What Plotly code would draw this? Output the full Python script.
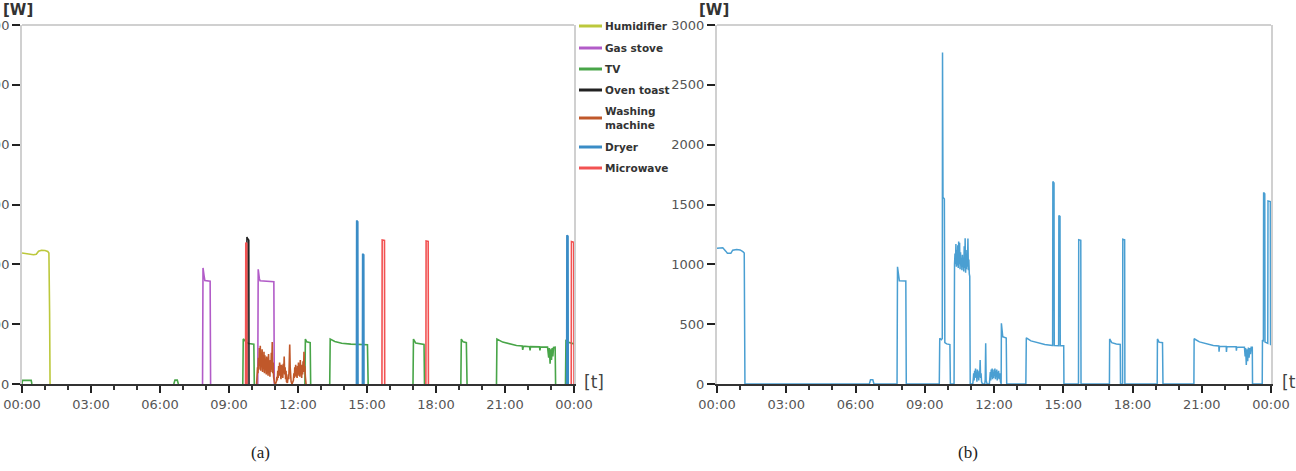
import plotly.graph_objects as go

W, H = 1296, 471

# ---------------- data (hours of day, watts); None separates events ----------------
tick_hours = [0, 3, 6, 9, 12, 15, 18, 21, 24]
tick_labels = ["00:00", "03:00", "06:00", "09:00", "12:00", "15:00", "18:00", "21:00", "00:00"]
y_ticks = [0, 500, 1000, 1500, 2000, 2500, 3000]

appliance_names = ["Humidifier", "Gas stove", "TV", "Oven toast", "Washing machine", "Dryer", "Microwave"]
appliance_colors = ["#bcc83c", "#b25cc8", "#48a548", "#222222", "#c0582a", "#3a8cc6", "#f25252"]

hum_t = [0.0, 0.2, 0.35, 0.5, 0.62, 0.72, 0.85, 1.0, 1.12, 1.17, 1.2, 1.22]
hum_w = [1095, 1090, 1082, 1080, 1085, 1110, 1118, 1116, 1108, 1095, 600, 0]

gas_t = [7.85, 7.87, 7.92, 7.95, 8.18, 8.2, None, 10.25, 10.27, 10.32, 10.35, 10.95, 10.97]
gas_w = [0, 970, 900, 865, 860, 0, None, 0, 958, 880, 862, 855, 0]

tv_t = [0.0, 0.02, 0.4, 0.43, None, 6.6, 6.65, 6.75, 6.8, None,
        9.6, 9.62, 9.75, 9.85, 10.08, 10.1, None,
        12.3, 12.32, 12.38, 12.53, 12.55, None,
        13.38, 13.4, 13.6, 13.9, 14.3, 14.7, 15.02, 15.05, None,
        17.0, 17.02, 17.12, 17.3, 17.48, 17.5, None,
        19.08, 19.1, 19.18, 19.32, 19.35, None,
        20.63, 20.65, 20.9, 21.2, 21.5, 21.75, 21.77, 21.8, 22.07, 22.09, 22.11,
        22.5, 22.52, 22.54, 22.85, 22.9, 22.93, 22.96, 22.99, 23.02, 23.05, 23.08, 23.11, 23.18, 23.2, None,
        23.63, 23.65, 23.72, 23.85, 24.0]
tv_w = [0, 30, 30, 0, None, 0, 32, 32, 0, None,
        0, 377, 350, 338, 333, 0, None,
        0, 375, 352, 345, 0, None,
        0, 375, 355, 340, 333, 330, 328, 0, None,
        0, 375, 342, 335, 330, 0, None,
        0, 375, 352, 345, 0, None,
        0, 375, 350, 335, 322, 318, 285, 316, 312, 280, 312,
        310, 280, 310, 308, 220, 300, 170, 290, 200, 300, 230, 305, 308, 0, None,
        0, 370, 350, 340, 335]

oven_t = [9.77, 9.78, 9.8, 9.84, 9.86, 9.87]
oven_w = [0, 1228, 1215, 1210, 1200, 0]

wm_t = [10.20, 10.22, 10.24, 10.26, 10.28, 10.30, 10.32, 10.34, 10.36, 10.38, 10.40, 10.42, 10.44, 10.46,
        10.48, 10.50, 10.52, 10.54, 10.56, 10.58, 10.60, 10.62, 10.64, 10.66, 10.68, 10.70, 10.72, 10.74,
        10.76, 10.78, 10.80, 10.82, 10.84, 10.86, 10.88, 10.90, 10.92, 10.94, 10.96, 10.98, 11.02, 11.06,
        11.08, 11.10, 11.12, 11.14, 11.16, 11.18, 11.20, 11.22, 11.24, 11.26, 11.28, 11.30, 11.32, 11.34,
        11.36, 11.38, 11.40, 11.42, 11.44, 11.46, 11.48, 11.50, 11.54, 11.58, 11.60, 11.62, 11.64, 11.66,
        11.68, 11.70, 11.74, 11.80, 11.82, 11.84, 11.86, 11.88, 11.90, 11.92, 11.94, 11.96, 11.98, 12.00,
        12.02, 12.04, 12.06, 12.08, 12.10, 12.12, 12.14, 12.16, 12.18, 12.20, 12.22, 12.24, 12.26, 12.28,
        12.30, 12.32, 12.35]
wm_w = [0, 60, 140, 90, 220, 120, 300, 150, 320, 110, 260, 140, 290, 100,
        200, 130, 270, 90, 240, 150, 190, 80, 230, 120, 170, 70, 250, 110,
        150, 60, 200, 100, 260, 120, 350, 90, 180, 60, 30, 10, 0, 20,
        60, 30, 110, 50, 150, 70, 180, 90, 130, 40, 160, 80, 120, 50,
        170, 100, 230, 80, 140, 40, 110, 20, 10, 80, 40, 180, 330, 140,
        70, 20, 0, 30, 90, 50, 140, 70, 160, 60, 130, 50, 150, 90,
        180, 70, 140, 60, 200, 90, 150, 50, 160, 80, 190, 100, 270, 120,
        150, 60, 0]

dry_t = [14.54, 14.55, 14.6, 14.61, None, 14.8, 14.81, 14.86, 14.87, None, 23.68, 23.69, 23.74, 23.75]
dry_w = [0, 1367, 1355, 0, None, 0, 1088, 1080, 0, None, 0, 1242, 1235, 0]

mw_t = [9.72, 9.73, 9.77, 9.78, None, 15.65, 15.66, 15.76, 15.77, None,
        17.56, 17.57, 17.66, 17.67, None, 23.88, 23.89, 23.99, 24.0]
mw_w = [0, 1180, 1175, 0, None, 0, 1203, 1200, 0, None,
        0, 1195, 1192, 0, None, 0, 1190, 1185, 0]

appliance_t = [hum_t, gas_t, tv_t, oven_t, wm_t, dry_t, mw_t]
appliance_w = [hum_w, gas_w, tv_w, oven_w, wm_w, dry_w, mw_w]

# aggregate (panel b)
total_t = [0.00, 0.25, 0.38, 0.45, 0.60, 0.68, 0.85, 1.00, 1.12, 1.18, 1.21,
           6.60, 6.65, 6.75, 6.80,
           7.80, 7.82, 7.88, 7.90, 8.18, 8.20,
           9.63, 9.65, 9.72, 9.76, 9.77, 9.79, 9.85, 9.87, 9.95, 10.09, 10.11,
           10.27, 10.29, 10.31, 10.33, 10.35, 10.37, 10.39, 10.41, 10.43, 10.45, 10.47, 10.49, 10.51, 10.53,
           10.55, 10.57, 10.59, 10.61, 10.63, 10.65, 10.67, 10.69, 10.71, 10.73, 10.75, 10.77, 10.79, 10.81,
           10.83, 10.85, 10.87, 10.89, 10.91, 10.93, 10.95, 10.97,
           11.08, 11.10, 11.12, 11.14, 11.16, 11.18, 11.20, 11.22, 11.24, 11.26, 11.28, 11.30, 11.32, 11.34,
           11.36, 11.38, 11.40, 11.42, 11.44, 11.46, 11.50, 11.60, 11.62, 11.64, 11.66, 11.70, 11.80, 11.82,
           11.84, 11.86, 11.88, 11.90, 11.92, 11.94, 11.96, 11.98, 12.00, 12.02, 12.04, 12.06, 12.08, 12.10,
           12.12, 12.14, 12.16, 12.18, 12.20, 12.22, 12.25, 12.28, 12.30,
           12.31, 12.32, 12.35, 12.38, 12.53, 12.55,
           13.38, 13.40, 13.60, 13.90, 14.20, 14.53, 14.54, 14.55, 14.60, 14.61, 14.80, 14.81, 14.86, 14.87,
           15.02, 15.03,
           15.66, 15.67, 15.76, 15.77,
           17.00, 17.01, 17.10, 17.30, 17.47, 17.48,
           17.57, 17.58, 17.66, 17.67,
           19.07, 19.08, 19.15, 19.30, 19.32,
           20.66, 20.67, 20.90, 21.20, 21.50, 21.74, 21.75, 21.77, 22.06, 22.07, 22.09, 22.49, 22.50, 22.52,
           22.85, 22.88, 22.90, 22.93, 22.96, 22.99, 23.02, 23.05, 23.08, 23.11, 23.14, 23.19, 23.20,
           23.62, 23.63, 23.67, 23.68, 23.73, 23.74, 23.86, 23.87, 23.97, 23.98, 24.00]
total_w = [1135, 1138, 1110, 1092, 1092, 1118, 1124, 1120, 1106, 1095, 0,
           0, 35, 35, 0,
           0, 980, 900, 862, 860, 0,
           0, 383, 370, 380, 2770, 1560, 1545, 345, 335, 330, 0,
           0, 1000, 1090, 1000, 1170, 980, 1120, 990, 1160, 970, 1190, 1000, 1180, 960,
           1100, 990, 1050, 950, 1080, 980, 1030, 940, 1150, 970, 1217, 930, 1060, 960,
           1120, 980, 1215, 950, 1040, 920, 900, 0,
           0, 40, 90, 30, 110, 50, 130, 60, 100, 20, 120, 70, 90, 30,
           110, 60, 200, 50, 90, 20, 0, 0, 40, 340, 30, 0, 0, 50,
           100, 30, 120, 60, 130, 40, 100, 50, 120, 70, 130, 40, 110, 60,
           120, 30, 100, 50, 110, 40, 90, 20, 0,
           0, 508, 420, 395, 385, 0,
           0, 386, 360, 342, 330, 322, 322, 1692, 1680, 322, 320, 1408, 1400, 320,
           320, 0,
           0, 1206, 1200, 0,
           0, 377, 345, 335, 330, 0,
           0, 1210, 1205, 0,
           0, 377, 350, 345, 0,
           0, 378, 352, 335, 322, 318, 270, 316, 314, 268, 313, 311, 278, 310,
           308, 230, 300, 160, 290, 190, 305, 220, 300, 250, 308, 308, 0,
           0, 368, 355, 1600, 1590, 350, 340, 1530, 1525, 330, 328]

# ---------------- geometry (pixels -> paper) ----------------
def px(x):
    return x / W

def py(y):
    return 1 - y / H

left_dom = [px(22), px(574)]
right_dom = [px(717), px(1271)]
ydom = [py(384), py(25)]

fig = go.Figure()
for name, color, t, w in zip(appliance_names, appliance_colors, appliance_t, appliance_w):
    fig.add_trace(go.Scatter(x=t, y=w, mode="lines", name=name,
                             line=dict(color=color, width=1.6), connectgaps=False,
                             xaxis="x", yaxis="y", showlegend=False))

fig.add_trace(go.Scatter(x=total_t, y=total_w, mode="lines", name="Total",
                         line=dict(color="#4a9fd2", width=1.5),
                         xaxis="x2", yaxis="y2", showlegend=False))

tickfont = dict(family="DejaVu Sans", size=13, color="#555555")

def xax(domain, anchor, layer):
    return dict(domain=domain, anchor=anchor, range=[0, 24], automargin=False,
                tickmode="array", tickvals=tick_hours, ticktext=tick_labels,
                ticks="outside", ticklen=7, tickwidth=2, tickcolor="#222222",
                minor=dict(tickmode="linear", tick0=0, dtick=1, ticks="outside",
                           ticklen=4, tickwidth=1.5, tickcolor="#333333", showgrid=False),
                showline=True, linecolor="#333333", linewidth=2,
                showgrid=False, zeroline=False, tickfont=tickfont,
                layer=layer, fixedrange=True)

def yax(anchor):
    return dict(domain=ydom, anchor=anchor, range=[0, 3000], automargin=False,
                tickmode="array", tickvals=y_ticks,
                ticks="outside", ticklen=8, tickwidth=2, tickcolor="#222222",
                showline=True, linecolor="#d0d0d0", linewidth=2, mirror=True,
                showgrid=False, zeroline=False, tickfont=tickfont, fixedrange=True)

shapes = []
for xr, yr in [("x domain", "y domain"), ("x2 domain", "y2 domain")]:
    shapes.append(dict(type="line", xref=xr, yref=yr, x0=0, x1=1, y0=1, y1=1,
                       line=dict(color="#d0d0d0", width=2), layer="below"))

annotations = []
# axis unit labels
for xc in [18, 714]:
    annotations.append(dict(text="[W]", x=px(xc), y=py(10), xref="paper", yref="paper",
                            xanchor="center", yanchor="middle", showarrow=False,
                            font=dict(family="DejaVu Sans", size=15, color="#333333", weight=700)))
for xc in [594, 1292]:
    annotations.append(dict(text="[t]", x=px(xc), y=py(382), xref="paper", yref="paper",
                            xanchor="center", yanchor="middle", showarrow=False,
                            font=dict(family="DejaVu Sans", size=17, color="#444444")))
# captions
for txt, xc in [("(a)", 260), ("(b)", 968)]:
    annotations.append(dict(text=txt, x=px(xc), y=py(452), xref="paper", yref="paper",
                            xanchor="center", yanchor="middle", showarrow=False,
                            font=dict(family="Liberation Serif", size=17, color="#222222")))

# legend (drawn manually to match the original layout)
legend_rows = [26, 48, 69, 90, 118, 147, 168]
for name, color, yc in zip(appliance_names, appliance_colors, legend_rows):
    shapes.append(dict(type="line", xref="paper", yref="paper",
                       x0=px(579), x1=px(602), y0=py(yc), y1=py(yc),
                       line=dict(color=color, width=3)))
    label = name.replace(" machine", "<br>machine")
    annotations.append(dict(text=label, x=px(603), y=py(yc), xref="paper", yref="paper",
                            xanchor="left", yanchor="middle", align="left", showarrow=False,
                            font=dict(family="DejaVu Sans", size=10.5, color="#333333", weight=700)))

fig.update_layout(
    width=W, height=H,
    margin=dict(l=0, r=0, t=0, b=0, autoexpand=False),
    paper_bgcolor="white", plot_bgcolor="white",
    xaxis=xax(left_dom, "y", "above traces"),
    yaxis=yax("x"),
    xaxis2=xax(right_dom, "y2", "below traces"),
    yaxis2=yax("x2"),
    shapes=shapes,
    annotations=annotations,
    showlegend=False,
)

fig.write_html("out.html")
